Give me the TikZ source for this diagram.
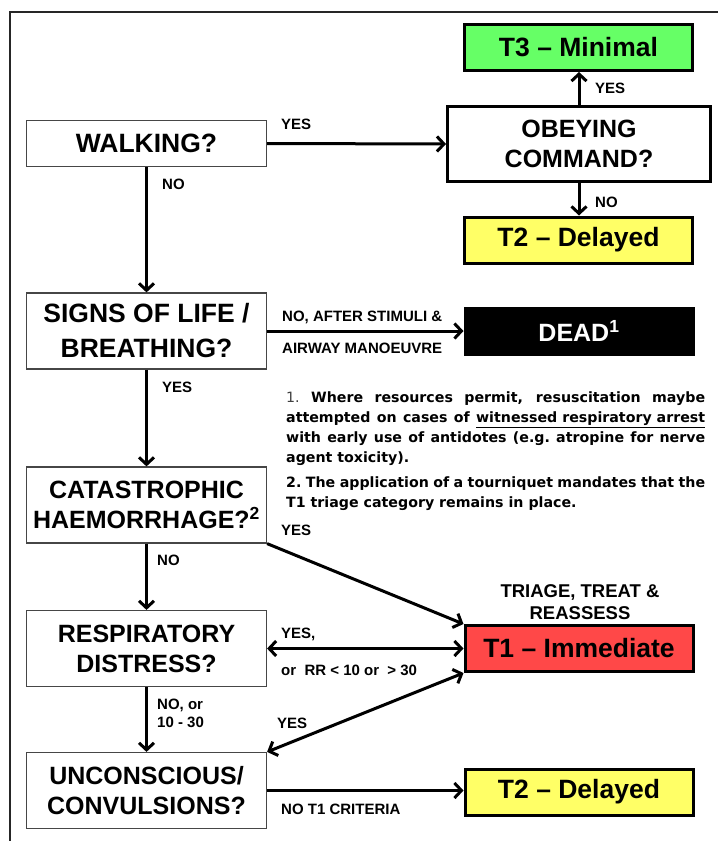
\documentclass[tikz,border=0pt]{standalone}
\usepackage{fontspec}
\setmainfont{Liberation Sans}
\newfontfamily\notefont{DejaVu Sans}
\usetikzlibrary{arrows.meta}
\definecolor{tgreen}{RGB}{102,255,102}
\definecolor{tyellow}{RGB}{255,255,102}
\definecolor{tred}{RGB}{255,72,72}
\definecolor{lgray}{RGB}{70,70,70}
\newcommand{\notepar}[1]{\begin{minipage}[t]{419pt}\notefont\bfseries\fontsize{14.2}{20}\selectfont\parindent=0pt\leftskip=0pt\rightskip=0pt\parfillskip=0pt plus 1fil\relax #1\end{minipage}}
\begin{document}
\begin{tikzpicture}[x=1pt,y=-1pt,
  qbox/.style={draw=lgray, line width=1.2pt, minimum width=240pt, minimum height=#1, inner sep=0pt, align=center, font=\bfseries\fontsize{25}{30}\selectfont},
  qbox/.default=76pt,
  rbox/.style={draw=black, line width=3pt, minimum width=228pt, minimum height=46pt, inner sep=0pt, align=center, font=\bfseries\fontsize{26.5}{30}\selectfont},
  arr/.style={line width=3pt, -{Straight Barb[length=7pt,width=15pt]}},
  arrtwo/.style={line width=3pt, {Straight Barb[length=7pt,width=15pt]}-{Straight Barb[length=7pt,width=15pt]}},
  lab/.style={font=\bfseries\fontsize{15}{18}\selectfont, inner sep=0pt, anchor=west, text height=10.7pt, text depth=0pt},
  notestyle/.style={inner sep=0pt, anchor=base west},
]
\useasboundingbox (0,0) rectangle (718,841);
\fill[white] (0,0) rectangle (718,841);
% frame
\draw[line width=1.5pt, black!85] (10,841) -- (10,12) -- (718,12);

% left question boxes
\node[qbox=46pt, font=\bfseries\fontsize{26.5}{30}\selectfont] (walk) at (146.5,143.5) {WALKING?};
\node[qbox, font=\bfseries\fontsize{26.5}{35}\selectfont] (signs) at (146.5,331) {SIGNS OF LIFE /\\BREATHING?};
\node[qbox] (cat) at (146.5,505) {CATASTROPHIC\\HAEMORRHAGE?\textsuperscript{2}};
\node[qbox] (resp) at (146.5,648.5) {RESPIRATORY\\DISTRESS?};
\node[qbox] (unc) at (146.5,790.5) {UNCONSCIOUS/\\CONVULSIONS?};

% right boxes
\node[rbox, fill=tgreen] (t3) at (578.5,47.5) {T3 -- Minimal};
\node[rbox, minimum width=263pt, minimum height=75pt, font=\bfseries\fontsize{25}{30}\selectfont] (obey) at (579,144) {OBEYING\\COMMAND?};
\node[rbox, fill=tyellow] (t2a) at (578.5,240) {T2 -- Delayed};
\node[rbox, fill=black, text=white, font=\bfseries\fontsize{25}{30}\selectfont] (dead) at (579,331) {DEAD\textsuperscript{1}};
\node[rbox, fill=tred] (t1) at (579,648.5) {T1 -- Immediate};
\node[rbox, fill=tyellow] (t2b) at (579,792) {T2 -- Delayed};

% connectors
\draw[arr] (walk.east) -- (obey.west);
\draw[arr] (obey.north) -- (obey.north |- t3.south);
\draw[arr] (obey.south) -- (obey.south |- t2a.north);
\draw[arr] (walk.south) -- (signs.north);
\draw[arr] (signs.east) -- (dead.west);
\draw[arr] (signs.south) -- (cat.north);
\draw[arr] (cat.south) -- (resp.north);
\draw[arr] (cat.south east) -- (t1.north west);
\draw[arrtwo] (resp.east) -- (t1.west);
\draw[arr] (resp.south) -- (unc.north);
\draw[arrtwo] (unc.north east) -- (t1.south west);
\draw[arr] (unc.east) -- (unc.east -| t2b.west);

% labels
\node[lab] (lyes1) at (281,124) {YES};
\node[lab] (lno1) at (162,184) {NO};
\node[lab] (lyes2) at (595,88) {YES};
\node[lab] (lno2) at (595,202) {NO};
\node[lab] (lstim) at (282,316) {NO, AFTER STIMULI \&};
\node[lab] (lair) at (282,348) {AIRWAY MANOEUVRE};
\node[lab] (lyes3) at (162,387) {YES};
\node[lab] (lyes4) at (281,530) {YES};
\node[lab] (lno3) at (157,560) {NO};
\node[lab] (lyes5) at (281,633) {YES,};
\node[lab] (lrr) at (281,670) {or\ \ RR < 10 or\ \ > 30};
\node[lab] (lnoor) at (157,704) {NO, or};
\node[lab] (lrange) at (157,722) {10 - 30};
\node[lab] (lyes6) at (277,723) {YES};
\node[lab] (lnot1) at (281,809) {NO T1 CRITERIA};
\node[font=\bfseries\fontsize{18.5}{22}\selectfont, align=center, inner sep=0pt] (triage) at (580,602.5) {TRIAGE, TREAT \&\\REASSESS};

% notes
\node[notestyle] (note1) at (286,392) {\notepar{{\mdseries\color{black!75}1.}\ Where resources permit, resuscitation maybe\linebreak attempted on cases of \underline{witnessed respiratory arrest}\linebreak with early use of antidotes (e.g.\ atropine for nerve\linebreak agent toxicity).}};
\node[notestyle] (note2) at (286,487.5) {\notepar{2.\ The application of a tourniquet mandates that the\linebreak T1 triage category remains in place.}};
\end{tikzpicture}
\end{document}
